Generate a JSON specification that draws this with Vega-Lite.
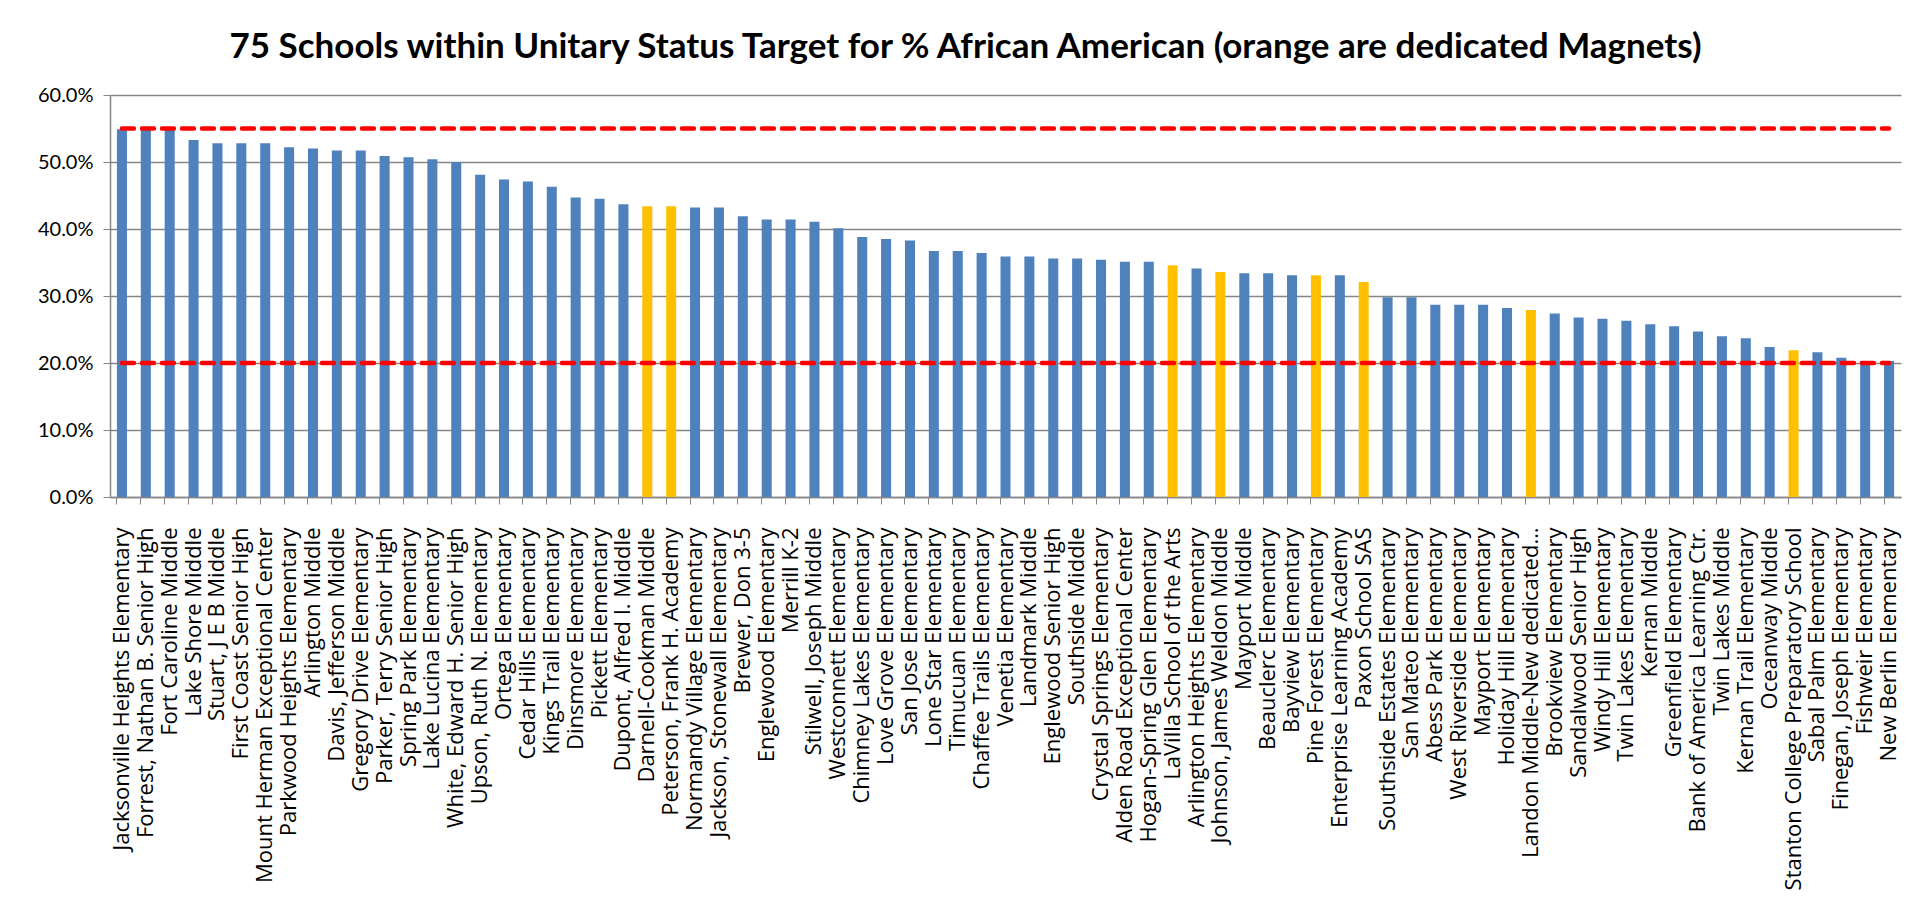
{
  "$schema": "https://vega.github.io/schema/vega-lite/v6.json",
  "width": 1791,
  "height": 402,
  "autosize": {"type": "none"},
  "padding": {"left": 110, "top": 95, "right": 26, "bottom": 412},
  "background": "white",
  "title": {
    "text": "75 Schools within Unitary Status Target for % African American (orange are dedicated Magnets)",
    "font": "Lato",
    "fontSize": 35,
    "fontWeight": "bold",
    "color": "#000000",
    "anchor": "middle",
    "dx": -40,
    "offset": 20
  },
  "data": {
    "values": [
      {"school": "Jacksonville Heights Elementary", "pct": 0.549, "magnet": "no"},
      {"school": "Forrest, Nathan B. Senior High", "pct": 0.550, "magnet": "no"},
      {"school": "Fort Caroline Middle", "pct": 0.549, "magnet": "no"},
      {"school": "Lake Shore Middle", "pct": 0.533, "magnet": "no"},
      {"school": "Stuart, J E B Middle", "pct": 0.528, "magnet": "no"},
      {"school": "First Coast Senior High", "pct": 0.528, "magnet": "no"},
      {"school": "Mount Herman Exceptional Center", "pct": 0.528, "magnet": "no"},
      {"school": "Parkwood Heights Elementary", "pct": 0.522, "magnet": "no"},
      {"school": "Arlington Middle", "pct": 0.520, "magnet": "no"},
      {"school": "Davis, Jefferson Middle", "pct": 0.517, "magnet": "no"},
      {"school": "Gregory Drive Elementary", "pct": 0.517, "magnet": "no"},
      {"school": "Parker, Terry Senior High", "pct": 0.509, "magnet": "no"},
      {"school": "Spring Park Elementary", "pct": 0.507, "magnet": "no"},
      {"school": "Lake Lucina Elementary", "pct": 0.504, "magnet": "no"},
      {"school": "White, Edward H. Senior High", "pct": 0.4995, "magnet": "no"},
      {"school": "Upson, Ruth N. Elementary", "pct": 0.481, "magnet": "no"},
      {"school": "Ortega Elementary", "pct": 0.474, "magnet": "no"},
      {"school": "Cedar Hills  Elementary", "pct": 0.471, "magnet": "no"},
      {"school": "Kings Trail  Elementary", "pct": 0.463, "magnet": "no"},
      {"school": "Dinsmore Elementary", "pct": 0.447, "magnet": "no"},
      {"school": "Pickett Elementary", "pct": 0.445, "magnet": "no"},
      {"school": "Dupont, Alfred I. Middle", "pct": 0.437, "magnet": "no"},
      {"school": "Darnell-Cookman Middle", "pct": 0.434, "magnet": "yes"},
      {"school": "Peterson, Frank H. Academy", "pct": 0.434, "magnet": "yes"},
      {"school": "Normandy Village Elementary", "pct": 0.432, "magnet": "no"},
      {"school": "Jackson, Stonewall Elementary", "pct": 0.432, "magnet": "no"},
      {"school": "Brewer, Don 3-5", "pct": 0.419, "magnet": "no"},
      {"school": "Englewood Elementary", "pct": 0.414, "magnet": "no"},
      {"school": "Merrill K-2", "pct": 0.414, "magnet": "no"},
      {"school": "Stilwell, Joseph Middle", "pct": 0.411, "magnet": "no"},
      {"school": "Westconnett Elementary", "pct": 0.401, "magnet": "no"},
      {"school": "Chimney Lakes Elementary", "pct": 0.388, "magnet": "no"},
      {"school": "Love Grove Elementary", "pct": 0.385, "magnet": "no"},
      {"school": "San Jose Elementary", "pct": 0.383, "magnet": "no"},
      {"school": "Lone Star Elementary", "pct": 0.367, "magnet": "no"},
      {"school": "Timucuan Elementary", "pct": 0.367, "magnet": "no"},
      {"school": "Chaffee Trails Elementary", "pct": 0.364, "magnet": "no"},
      {"school": "Venetia Elementary", "pct": 0.359, "magnet": "no"},
      {"school": "Landmark Middle", "pct": 0.359, "magnet": "no"},
      {"school": "Englewood Senior High", "pct": 0.356, "magnet": "no"},
      {"school": "Southside Middle", "pct": 0.356, "magnet": "no"},
      {"school": "Crystal Springs Elementary", "pct": 0.354, "magnet": "no"},
      {"school": "Alden Road Exceptional Center", "pct": 0.351, "magnet": "no"},
      {"school": "Hogan-Spring Glen Elementary", "pct": 0.351, "magnet": "no"},
      {"school": "LaVilla School of the Arts", "pct": 0.346, "magnet": "yes"},
      {"school": "Arlington Heights Elementary", "pct": 0.341, "magnet": "no"},
      {"school": "Johnson, James Weldon Middle", "pct": 0.336, "magnet": "yes"},
      {"school": "Mayport Middle", "pct": 0.334, "magnet": "no"},
      {"school": "Beauclerc Elementary", "pct": 0.334, "magnet": "no"},
      {"school": "Bayview Elementary", "pct": 0.331, "magnet": "no"},
      {"school": "Pine Forest Elementary", "pct": 0.331, "magnet": "yes"},
      {"school": "Enterprise Learning Academy", "pct": 0.331, "magnet": "no"},
      {"school": "Paxon School SAS", "pct": 0.321, "magnet": "yes"},
      {"school": "Southside Estates Elementary", "pct": 0.298, "magnet": "no"},
      {"school": "San Mateo Elementary", "pct": 0.298, "magnet": "no"},
      {"school": "Abess Park Elementary", "pct": 0.287, "magnet": "no"},
      {"school": "West Riverside Elementary", "pct": 0.287, "magnet": "no"},
      {"school": "Mayport Elementary", "pct": 0.287, "magnet": "no"},
      {"school": "Holiday Hill  Elementary", "pct": 0.282, "magnet": "no"},
      {"school": "Landon Middle-New dedicated…", "pct": 0.279, "magnet": "yes"},
      {"school": "Brookview Elementary", "pct": 0.274, "magnet": "no"},
      {"school": "Sandalwood Senior High", "pct": 0.268, "magnet": "no"},
      {"school": "Windy Hill  Elementary", "pct": 0.266, "magnet": "no"},
      {"school": "Twin Lakes Elementary", "pct": 0.263, "magnet": "no"},
      {"school": "Kernan Middle", "pct": 0.258, "magnet": "no"},
      {"school": "Greenfield Elementary", "pct": 0.255, "magnet": "no"},
      {"school": "Bank of America Learning Ctr.", "pct": 0.247, "magnet": "no"},
      {"school": "Twin Lakes Middle", "pct": 0.240, "magnet": "no"},
      {"school": "Kernan Trail Elementary", "pct": 0.237, "magnet": "no"},
      {"school": "Oceanway Middle", "pct": 0.224, "magnet": "no"},
      {"school": "Stanton College Preparatory School", "pct": 0.219, "magnet": "yes"},
      {"school": "Sabal Palm Elementary", "pct": 0.216, "magnet": "no"},
      {"school": "Finegan, Joseph Elementary", "pct": 0.208, "magnet": "no"},
      {"school": "Fishweir Elementary", "pct": 0.203, "magnet": "no"},
      {"school": "New Berlin Elementary", "pct": 0.203, "magnet": "no"}
    ]
  },
  "encoding": {
    "x": {
      "field": "school",
      "type": "nominal",
      "sort": null,
      "title": null,
      "scale": {"paddingInner": 0.58, "paddingOuter": 0.29},
      "axis": {
        "labelAngle": -90,
        "labelFont": "Open Sans",
        "labelFontSize": 22,
        "labelColor": "#000000",
        "labelPadding": 23,
        "labelLimit": 500,
        "tickSize": 7,
        "tickColor": "#868686",
        "domainColor": "#868686",
        "domainWidth": 1.5,
        "bandPosition": 0,
        "labelBound": false,
        "labelOverlap": false
      }
    }
  },
  "layer": [
    {
      "mark": {"type": "bar"},
      "encoding": {
        "y": {
          "field": "pct",
          "type": "quantitative",
          "title": null,
          "scale": {"domain": [0, 0.6], "nice": false},
          "axis": {
            "values": [0, 0.1, 0.2, 0.3, 0.4, 0.5, 0.6],
            "format": ".1%",
            "labelFont": "Lato",
            "labelFontSize": 20,
            "labelColor": "#000000",
            "labelPadding": 10,
            "tickSize": 7,
            "tickColor": "#868686",
            "domainColor": "#868686",
            "domainWidth": 1.5,
            "gridColor": "#868686",
            "gridWidth": 1.5
          }
        },
        "color": {
          "field": "magnet",
          "type": "nominal",
          "scale": {"domain": ["no", "yes"], "range": ["#4F81BD", "#FFC000"]},
          "legend": null
        }
      }
    },
    {
      "mark": {"type": "line", "color": "#FF0000", "strokeWidth": 4.5, "strokeDash": [12, 8], "strokeCap": "round"},
      "encoding": {"y": {"datum": 0.55}}
    },
    {
      "mark": {"type": "line", "color": "#FF0000", "strokeWidth": 4.5, "strokeDash": [12, 8], "strokeCap": "round"},
      "encoding": {"y": {"datum": 0.2}}
    }
  ],
  "config": {"view": {"stroke": null}}
}
